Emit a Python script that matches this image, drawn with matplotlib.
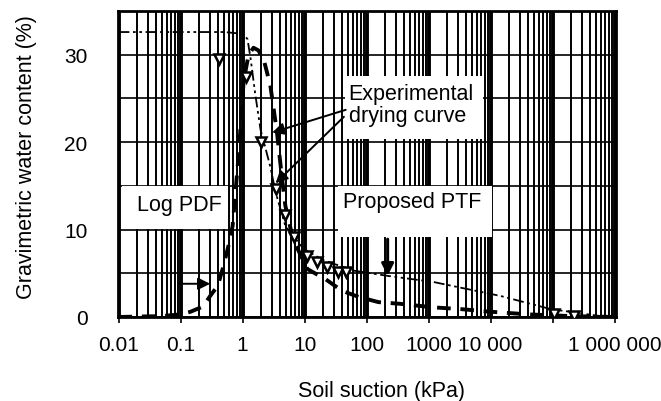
import numpy as np
import matplotlib.pyplot as plt
from matplotlib.patches import Rectangle
from matplotlib.ticker import LogLocator, NullFormatter, FixedLocator

plt.rcParams['font.family'] = ['Liberation Sans', 'DejaVu Sans']

# Proposed PTF (dash-dot curve)
ptf_suction = [0.01, 0.1, 0.5, 1.0, 1.2, 1.35, 1.6, 1.95, 2.4, 2.8, 3.4, 4.9,
               9.6, 20, 62, 220, 1200, 14500, 93000, 590000, 1e6]
ptf_water = [32.6, 32.6, 32.6, 32.4, 31.8, 29.5, 25.5, 21.4, 19.0, 17.2, 14.3, 10.4,
             7.8, 6.5, 5.3, 4.7, 4.0, 2.4, 0.9, 0.1, 0.0]

# Log PDF (thick dashed curve)
logpdf_suction = [0.01, 0.05, 0.1, 0.145, 0.23, 0.30, 0.40, 0.49, 0.59, 0.69, 0.87,
                  1.04, 1.25, 1.5, 1.8, 2.2, 2.8, 3.6, 4.3, 4.9, 6.5, 11, 22, 40,
                  74, 155, 355, 1200, 3300, 1e4, 4e4, 2e5, 1e6]
logpdf_water = [0.0, 0.1, 0.3, 0.6, 1.2, 2.4, 3.6, 5.8, 8.1, 10.4, 18.8,
                27.0, 30.0, 30.8, 30.5, 29.4, 26.5, 21.0, 16.0, 12.7, 8.9, 5.5, 4.3, 3.0,
                2.3, 1.7, 1.5, 1.1, 0.9, 0.6, 0.3, 0.1, 0.0]

# Experimental drying curve
exp_suction = [0.41, 1.15, 2.0, 3.4, 4.9, 6.7, 11, 16, 23, 34, 46, 1.05e5, 2.2e5]
exp_water = [29.5, 27.5, 20.0, 14.6, 11.7, 9.1, 7.0, 6.3, 5.7, 5.2, 5.1, 0.3, 0.15]

xtick_vals = [0.01, 0.1, 1, 10, 100, 1000, 1e4, 1e5, 1e6]
xtick_labels = ['0.01', '0.1', '1', '10', '100', '1000', '10 000', '', '1 000 000']
ytick_vals = [0, 10, 20, 30]

fig = plt.figure(figsize=(6.61, 4.02), dpi=100)
ax = fig.add_axes([0.1785, 0.209, 0.7535, 0.761])

ax.set_xscale('log')
ax.set_xlim(0.0098, 1.05e6)
ax.set_ylim(0, 35)

# heavy scanned-looking grid
ax.xaxis.set_major_locator(FixedLocator(xtick_vals))
ax.xaxis.set_minor_locator(LogLocator(base=10, subs=np.arange(2, 10), numticks=100))
ax.xaxis.set_minor_formatter(NullFormatter())
ax.set_xticklabels(xtick_labels)
ax.set_yticks(ytick_vals)
ax.set_yticks([5, 15, 25, 35], minor=True)
ax.grid(which='major', axis='x', color='k', lw=2.8)
ax.grid(which='minor', axis='x', color='k', lw=1.4)
ax.grid(which='both', axis='y', color='k', lw=1.2)

ax.tick_params(axis='x', which='major', length=4, width=1.2, pad=9, labelsize=15)
ax.tick_params(axis='x', which='minor', length=0)
ax.tick_params(axis='y', which='both', length=0, pad=22, labelsize=15)
for s in ax.spines.values():
    s.set_linewidth(2)

# white label boxes over the grid
for (x0, y0, w, h) in [(0.456, 0.582, 0.277, 0.206),
                       (0.008, 0.288, 0.213, 0.140),
                       (0.442, 0.261, 0.309, 0.167)]:
    ax.add_patch(Rectangle((x0, y0), w, h, transform=ax.transAxes,
                           facecolor='white', edgecolor='none', zorder=2.2))

ax.plot(ptf_suction, ptf_water, color='k', lw=1.3, ls=(0, (6, 2, 1.5, 2, 1.5, 2)), zorder=3)
ax.plot(logpdf_suction, logpdf_water, color='k', lw=2.8, ls=(0, (3.5, 2.5)), zorder=3)
ax.plot(exp_suction, exp_water, ls='none', marker='v', ms=7, mfc='white',
        mec='k', mew=1.8, zorder=4)

ax.text(0.463, 0.694, 'Experimental\ndrying curve', transform=ax.transAxes,
        fontsize=15.5, va='center', ha='left', linespacing=1.1, zorder=5)
ax.text(0.038, 0.369, 'Log PDF', transform=ax.transAxes,
        fontsize=15.5, va='center', ha='left', zorder=5)
ax.text(0.452, 0.379, 'Proposed PTF', transform=ax.transAxes,
        fontsize=15.5, va='center', ha='left', zorder=5)

arrow = dict(arrowstyle='-|>', color='k', lw=1.4, mutation_scale=18, shrinkA=0, shrinkB=0)
ax.annotate('', xy=(3.0, 21.1), xytext=(46, 23.7), arrowprops=arrow, zorder=5)
ax.annotate('', xy=(3.4, 15.3), xytext=(43, 22.9), arrowprops=arrow, zorder=5)
ax.annotate('', xy=(0.30, 3.8), xytext=(0.093, 3.8), arrowprops=arrow, zorder=5)
ax.annotate('', xy=(218, 4.7), xytext=(218, 8.9),
            arrowprops=dict(arrow, lw=2.2), zorder=5)

ax.set_xlabel('Soil suction (kPa)', fontsize=15.5)
ax.xaxis.set_label_coords(0.53, -0.205)
ax.set_ylabel('Gravimetric water content (%)', fontsize=15.5)
ax.yaxis.set_label_coords(-0.163, 0.526)

fig.savefig('out.png', dpi=100)
